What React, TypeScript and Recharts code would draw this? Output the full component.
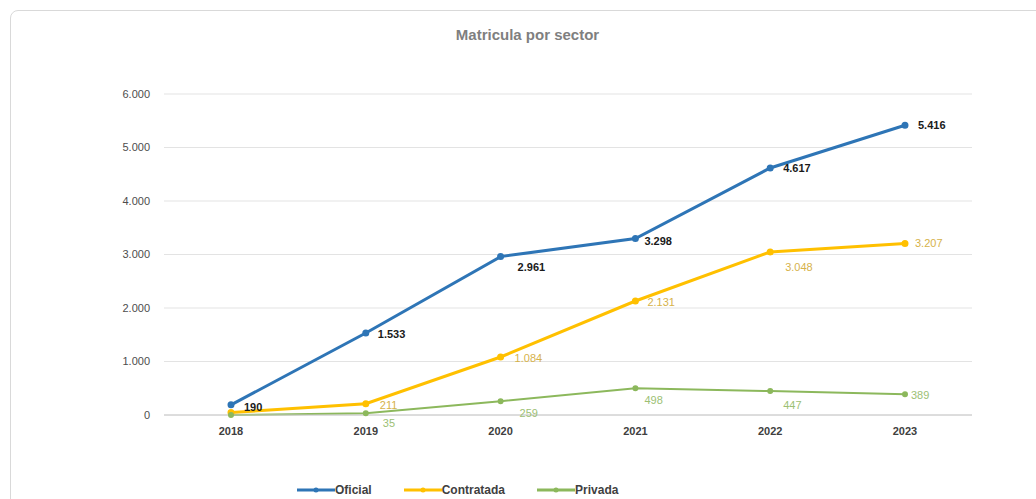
import { LineChart, Line, XAxis, YAxis, CartesianGrid } from 'recharts';

const years = ['2018', '2019', '2020', '2021', '2022', '2023'];
const oficial = [190, 1533, 2961, 3298, 4617, 5416];
const contratada = [45, 211, 1084, 2131, 3048, 3207];
const privada = [0, 35, 259, 498, 447, 389];
const yTicks = [0, 1000, 2000, 3000, 4000, 5000, 6000];
const seriesNames = ['Oficial', 'Contratada', 'Privada'];

// label offsets (px) from each point, as placed in the original
const oficialDx = [13, 12, 17, 9, 13, 13];
const oficialDy = [2, 1, 10, 2, 0, 0];
const contratadaDx = [0, 14, 14, 12, 15, 10];
const contratadaDy = [0, 1, 1, 1, 15, 0];
const privadaDx = [0, 17, 19, 9, 13, 6];
const privadaDy = [0, 10, 12, 12, 14, 1];

const data = years.map((year, i) => ({
  year,
  Oficial: oficial[i],
  Contratada: contratada[i],
  Privada: privada[i],
}));

const fmt = (v: number) => String(v).replace(/\B(?=(\d{3})+(?!\d))/g, '.');

const BLUE = '#2e75b6';
const GOLD = '#ffc000';
const GREEN = '#8cb85c';
const colors = [BLUE, GOLD, GREEN];
const FONT = 'Liberation Sans, Arial, sans-serif';

const makeLabel = (color: string, bold: boolean, skipFirst: boolean, dxs: number[], dys: number[]) => (props: any) => {
  const { x, y, value, index } = props;
  if (skipFirst && index === 0) return null;
  return (
    <text
      x={x + dxs[index]}
      y={y + dys[index]}
      fill={color}
      fontSize={11}
      fontWeight={bold ? 700 : 400}
      fontFamily={FONT}
      dominantBaseline="central"
    >
      {fmt(value)}
    </text>
  );
};

export default function App() {
  return (
    <div style={{ position: 'fixed', left: 0, top: 0, width: 1036, height: 499, background: '#fff', overflow: 'hidden' }}>
      <div
        style={{
          position: 'absolute',
          left: 10,
          top: 10,
          width: 1040,
          height: 520,
          border: '1px solid #d9d9d9',
          borderRadius: 8,
        }}
      />
      <div
        style={{
          position: 'absolute',
          left: 0,
          top: 26,
          width: 1055,
          textAlign: 'center',
          fontFamily: FONT,
          fontSize: 15,
          fontWeight: 700,
          color: '#7f7f7f',
        }}
      >
        Matricula por sector
      </div>
      <div style={{ position: 'absolute', left: 0, top: 0 }}>
        <LineChart width={1036} height={499} data={data} margin={{ top: 94, right: 64, bottom: 0, left: 0 }}>
          <CartesianGrid vertical={false} stroke="#e3e3e3" />
          <XAxis
            dataKey="year"
            padding={{ left: 67, right: 67 }}
            axisLine={{ stroke: '#c8c8c8' }}
            tickLine={false}
            tickSize={0}
            tickMargin={12}
            tick={{ fontSize: 11, fontWeight: 700, fill: '#404040', fontFamily: FONT }}
            height={84}
          />
          <YAxis
            width={164}
            domain={[0, 6000]}
            ticks={yTicks}
            tickFormatter={fmt}
            axisLine={false}
            tickLine={false}
            tickSize={0}
            tickMargin={14}
            tick={{ fontSize: 11, fill: '#4d4d4d', fontFamily: FONT }}
          />
          <Line
            dataKey="Oficial"
            stroke={BLUE}
            strokeWidth={3}
            dot={{ r: 2, fill: BLUE, stroke: BLUE }}
            label={makeLabel('#1a1a1a', true, false, oficialDx, oficialDy)}
            isAnimationActive={false}
          />
          <Line
            dataKey="Contratada"
            stroke={GOLD}
            strokeWidth={3}
            dot={{ r: 2, fill: GOLD, stroke: GOLD }}
            label={makeLabel('#d6b24a', false, true, contratadaDx, contratadaDy)}
            isAnimationActive={false}
          />
          <Line
            dataKey="Privada"
            stroke={GREEN}
            strokeWidth={2}
            dot={{ r: 2, fill: GREEN, stroke: GREEN }}
            label={makeLabel('#9cbf74', false, true, privadaDx, privadaDy)}
            isAnimationActive={false}
          />
        </LineChart>
      </div>
      <div
        style={{
          position: 'absolute',
          left: 297,
          top: 483,
          display: 'flex',
          gap: 32,
          fontFamily: FONT,
          fontSize: 12,
          fontWeight: 700,
          color: '#404040',
        }}
      >
        {seriesNames.map((name, i) => (
          <div key={name} style={{ display: 'flex', alignItems: 'center' }}>
            <svg width={38} height={10}>
              <line x1={0} y1={5} x2={38} y2={5} stroke={colors[i]} strokeWidth={3} />
              <circle cx={19} cy={5} r={2.5} fill={colors[i]} />
            </svg>
            <span>{name}</span>
          </div>
        ))}
      </div>
    </div>
  );
}
